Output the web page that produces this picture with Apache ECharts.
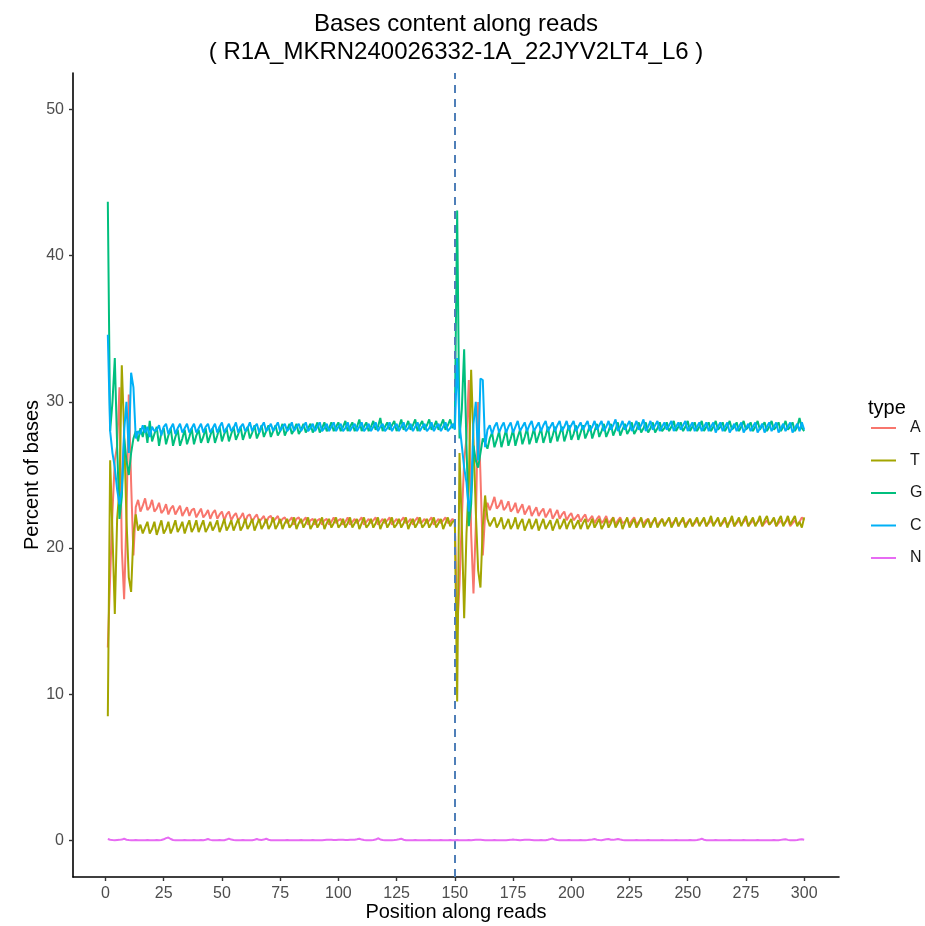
<!DOCTYPE html>
<html>
<head>
<meta charset="utf-8">
<script src="https://cdn.jsdelivr.net/npm/echarts@6/dist/echarts.min.js"></script>
<style>html,body{margin:0;padding:0;background:#fff}#c{width:925px;height:926px}</style>
</head>
<body>
<div id="c"></div>
<script>
const types = ['A', 'T', 'G', 'C', 'N'];
const xTicks = [0, 25, 50, 75, 100, 125, 150, 175, 200, 225, 250, 275, 300];
const yTicks = [0, 10, 20, 30, 40, 50];
const readSplit = 150;

const baseA = [
13.2,18.0,22.5,26.0,27.0,31.0,20.0,16.5,22.0,30.5,24.5,19.5,22.8,23.3,22.5,
22.9,23.4,22.6,22.8,23.3,22.5,22.7,23.1,22.4,22.6,23.0,22.3,22.7,22.9,22.3,
22.6,22.9,22.2,22.5,22.8,22.2,22.6,22.7,22.1,22.4,22.7,22.1,22.3,22.6,22.0,
22.4,22.6,22.0,22.3,22.5,21.9,22.3,22.5,21.9,22.2,22.4,21.9,22.1,22.4,21.8,
22.2,22.3,21.8,22.1,22.3,21.8,22.0,22.2,21.7,22.1,22.2,21.8,22.0,22.2,21.7,
22.0,22.1,21.7,21.9,22.1,21.6,22.0,22.1,21.7,21.9,22.1,21.6,21.9,22.0,21.6,
21.9,22.0,21.6,21.9,22.0,21.6,21.8,22.1,21.7,21.9,22.0,21.6,21.8,22.1,21.6,
21.8,22.0,21.7,21.9,22.1,21.6,21.8,22.0,21.7,21.9,22.1,21.6,21.8,22.0,21.7,
21.9,22.1,21.6,21.8,22.0,21.7,21.9,22.1,21.7,21.8,22.0,21.6,21.9,22.1,21.7,
21.8,22.0,21.7,21.9,22.1,21.6,21.8,22.0,21.7,21.9,22.1,21.7,21.8,22.0,21.8,
14.4,17.5,22.0,26.0,27.5,31.5,21.0,16.9,21.5,30.0,25.0,19.5,22.3,23.1,22.6,
23.0,23.5,22.7,22.9,23.3,22.6,22.8,23.2,22.5,22.7,23.1,22.4,22.7,23.0,22.3,
22.6,22.9,22.2,22.5,22.8,22.2,22.5,22.7,22.1,22.4,22.7,22.0,22.3,22.6,22.0,
22.3,22.5,21.9,22.2,22.4,21.9,22.1,22.3,21.8,22.1,22.3,21.8,22.0,22.2,21.7,
22.0,22.2,21.7,21.9,22.2,21.7,21.9,22.1,21.6,21.9,22.1,21.7,21.8,22.0,21.6,
21.9,22.1,21.6,21.8,22.0,21.6,21.9,22.0,21.6,21.8,22.0,21.5,21.8,22.0,21.6,
21.8,22.0,21.6,21.8,22.0,21.5,21.8,21.9,21.6,21.8,22.0,21.5,21.7,21.9,21.6,
21.8,22.0,21.5,21.7,21.9,21.6,21.8,22.0,21.5,21.7,21.9,21.6,21.8,22.0,21.5,
21.7,21.9,21.6,21.8,22.0,21.5,21.7,21.9,21.6,21.8,22.0,21.5,21.7,21.9,21.6,
21.8,22.0,21.5,21.7,21.9,21.6,21.8,22.0,21.5,21.7,21.9,21.6,21.8,22.1,21.9
];

const baseT = [
8.5,26.0,21.0,15.5,22.0,24.0,32.5,28.0,22.0,18.0,17.0,21.0,22.3,21.2,21.6,
21.0,21.4,21.8,21.0,21.3,21.8,20.9,21.4,21.9,21.0,21.3,21.8,21.0,21.4,21.9,
21.1,21.4,21.8,21.0,21.5,21.9,21.1,21.4,21.9,21.1,21.5,21.9,21.1,21.4,21.8,
21.2,21.5,21.9,21.1,21.5,22.0,21.2,21.5,21.9,21.2,21.6,22.0,21.2,21.5,22.0,
21.3,21.6,22.0,21.2,21.6,22.0,21.3,21.6,22.0,21.3,21.6,22.1,21.3,21.6,22.0,
21.3,21.7,22.0,21.4,21.6,22.1,21.3,21.7,22.0,21.4,21.7,22.1,21.3,21.6,22.0,
21.4,21.7,22.1,21.3,21.7,22.0,21.4,21.7,22.1,21.4,21.6,22.0,21.4,21.7,22.1,
21.4,21.7,22.0,21.3,21.7,22.1,21.4,21.6,22.0,21.4,21.7,22.1,21.3,21.7,22.0,
21.4,21.7,22.1,21.4,21.6,22.0,21.4,21.7,22.1,21.3,21.7,22.0,21.4,21.7,22.1,
21.4,21.6,22.0,21.4,21.7,22.1,21.4,21.7,22.0,21.3,21.7,22.1,21.5,21.8,21.9,
9.5,26.5,21.5,15.2,21.0,24.5,32.2,27.5,22.5,18.5,17.3,21.5,23.6,22.0,21.5,
21.8,22.1,21.4,21.7,22.1,21.3,21.6,22.0,21.3,21.6,22.1,21.3,21.7,22.0,21.2,
21.6,22.0,21.3,21.6,22.0,21.2,21.6,22.0,21.3,21.6,21.9,21.2,21.6,22.0,21.3,
21.6,22.0,21.3,21.7,22.0,21.3,21.6,21.9,21.3,21.7,22.0,21.3,21.6,22.0,21.4,
21.7,22.0,21.3,21.6,22.0,21.4,21.7,22.1,21.4,21.7,22.0,21.3,21.7,22.1,21.4,
21.7,22.0,21.4,21.7,22.1,21.4,21.7,22.0,21.4,21.8,22.1,21.4,21.7,22.0,21.5,
21.8,22.1,21.4,21.7,22.1,21.5,21.8,22.1,21.4,21.7,22.0,21.5,21.8,22.1,21.5,
21.8,22.1,21.5,21.8,22.2,21.5,21.8,22.1,21.5,21.8,22.1,21.4,21.8,22.2,21.5,
21.8,22.1,21.5,21.9,22.2,21.5,21.8,22.1,21.5,21.8,22.2,21.5,21.9,22.2,21.6,
21.8,22.1,21.5,21.9,22.2,21.5,21.8,22.2,21.6,21.9,22.2,21.5,21.8,21.4,22.1
];

const baseG = [
43.7,28.0,30.0,33.0,27.0,22.0,23.5,27.5,26.0,25.0,26.5,27.5,28.0,27.3,28.2,
27.6,28.4,27.2,28.7,27.3,27.8,28.3,27.0,27.9,28.2,27.1,27.7,28.2,27.0,27.6,
28.1,27.0,27.5,28.1,27.1,27.6,28.2,27.1,27.7,28.1,27.2,27.6,28.2,27.2,27.7,
28.2,27.2,27.7,28.3,27.3,27.8,28.2,27.3,27.8,28.3,27.4,27.8,28.3,27.4,27.9,
28.3,27.5,27.9,28.4,27.5,27.9,28.4,27.6,28.0,28.4,27.6,28.0,28.4,27.7,28.0,
28.5,27.7,28.1,28.5,27.8,28.1,28.5,27.8,28.1,28.5,27.9,28.2,28.5,27.9,28.2,
28.6,27.9,28.2,28.6,28.0,28.2,28.6,28.0,28.3,28.6,28.0,28.3,28.7,28.0,28.3,
28.6,28.0,28.3,28.8,28.0,28.3,28.6,28.0,28.3,28.7,28.1,28.3,28.9,28.0,28.3,
28.6,28.1,28.4,28.7,28.0,28.3,28.8,28.1,28.3,28.7,28.1,28.4,28.8,28.0,28.4,
28.7,28.1,28.4,28.8,28.1,28.3,28.7,28.1,28.4,28.8,28.1,28.4,28.8,28.2,28.6,
43.1,27.5,29.5,33.6,27.0,21.5,23.0,27.0,26.0,25.5,26.5,27.5,27.2,26.8,27.5,
27.9,26.9,27.4,28.0,26.9,27.5,28.1,27.0,27.5,28.1,27.0,27.6,28.1,27.1,27.6,
28.2,27.1,27.6,28.2,27.2,27.7,28.2,27.2,27.7,28.3,27.2,27.7,28.3,27.3,27.8,
28.3,27.3,27.8,28.4,27.4,27.8,28.4,27.4,27.9,28.4,27.5,27.9,28.4,27.5,28.0,
28.5,27.6,28.0,28.5,27.6,28.0,28.5,27.7,28.1,28.6,27.7,28.1,28.5,27.8,28.1,
28.6,27.8,28.1,28.6,27.9,28.2,28.6,27.9,28.2,28.6,27.9,28.2,28.6,28.0,28.2,
28.6,28.0,28.3,28.7,28.0,28.3,28.6,28.0,28.3,28.7,28.0,28.3,28.6,28.0,28.3,
28.7,28.0,28.3,28.6,28.0,28.3,28.7,28.1,28.3,28.6,28.0,28.3,28.7,28.1,28.3,
28.6,28.0,28.3,28.7,28.1,28.3,28.6,28.0,28.3,28.7,28.1,28.4,28.6,28.0,28.3,
28.7,28.1,28.3,28.6,28.0,28.3,28.7,28.1,28.3,28.6,28.0,28.3,28.9,28.2,28.0
];

const baseC = [
34.6,28.0,26.5,25.5,24.0,23.0,24.0,28.0,30.0,26.5,32.0,31.0,27.5,28.0,27.8,
28.4,27.9,28.3,27.6,28.3,28.0,28.1,28.4,27.7,28.3,28.5,27.8,28.2,28.5,27.8,
28.2,28.5,27.9,28.2,28.5,27.9,28.2,28.5,27.9,28.2,28.5,27.9,28.3,28.5,27.9,
28.2,28.5,27.9,28.3,28.6,27.9,28.2,28.5,28.0,28.2,28.6,27.9,28.3,28.5,28.0,
28.2,28.6,28.0,28.3,28.5,27.9,28.3,28.6,28.0,28.2,28.5,28.0,28.3,28.6,28.0,
28.3,28.5,28.0,28.2,28.6,28.0,28.3,28.5,28.0,28.3,28.6,28.0,28.2,28.5,28.0,
28.3,28.6,28.0,28.2,28.5,28.0,28.3,28.6,28.0,28.3,28.5,28.0,28.2,28.6,28.0,
28.3,28.5,28.0,28.3,28.6,28.0,28.2,28.5,28.0,28.3,28.6,28.0,28.3,28.5,28.0,
28.2,28.6,28.0,28.3,28.5,28.0,28.3,28.6,28.0,28.2,28.5,28.0,28.3,28.6,28.0,
28.3,28.5,28.0,28.2,28.6,28.0,28.3,28.5,28.0,28.3,28.6,28.0,28.2,28.5,28.1,
33.0,28.5,27.0,25.5,24.5,22.5,23.8,28.5,30.0,26.0,31.6,31.5,26.9,28.1,28.4,
27.8,28.3,28.6,27.9,28.3,28.6,27.9,28.3,28.6,27.9,28.3,28.7,28.0,28.3,28.6,
28.0,28.4,28.7,28.0,28.3,28.6,28.0,28.4,28.7,28.0,28.3,28.6,28.0,28.4,28.7,
28.0,28.3,28.7,28.1,28.4,28.7,28.0,28.3,28.6,28.1,28.4,28.7,28.0,28.3,28.7,
28.1,28.4,28.7,28.0,28.3,28.7,28.1,28.4,28.8,28.0,28.3,28.7,28.1,28.4,28.7,
28.0,28.3,28.7,28.1,28.4,28.8,28.0,28.3,28.7,28.1,28.4,28.7,28.0,28.3,28.6,
28.1,28.4,28.7,28.0,28.3,28.6,28.1,28.4,28.7,28.0,28.3,28.6,28.0,28.3,28.6,
28.0,28.3,28.6,28.0,28.3,28.6,27.9,28.3,28.6,28.0,28.3,28.6,27.9,28.2,28.5,
28.0,28.3,28.6,27.9,28.2,28.5,28.0,28.3,28.6,27.9,28.2,28.5,27.9,28.3,28.6,
28.0,28.3,28.6,27.9,28.2,28.5,28.0,28.3,28.6,27.9,28.2,28.5,28.0,28.6,28.1
];

const baseN = [
0.10,0.05,0.03,0.02,0.03,0.04,0.06,0.12,0.05,0.03,0.02,0.02,0.03,0.02,0.02,
0.02,0.02,0.03,0.02,0.02,0.02,0.03,0.02,0.03,0.08,0.16,0.20,0.10,0.03,0.02,
0.02,0.02,0.02,0.03,0.02,0.02,0.02,0.03,0.02,0.02,0.03,0.02,0.05,0.10,0.04,
0.02,0.02,0.02,0.03,0.02,0.02,0.06,0.13,0.06,0.03,0.02,0.02,0.02,0.03,0.02,
0.02,0.02,0.02,0.05,0.10,0.04,0.03,0.06,0.12,0.05,0.02,0.02,0.02,0.02,0.02,
0.02,0.02,0.03,0.02,0.02,0.02,0.02,0.02,0.03,0.02,0.02,0.02,0.02,0.03,0.02,
0.02,0.02,0.02,0.03,0.04,0.05,0.04,0.03,0.03,0.04,0.05,0.04,0.03,0.03,0.04,
0.04,0.05,0.08,0.12,0.06,0.03,0.02,0.02,0.02,0.03,0.06,0.15,0.07,0.03,0.02,
0.02,0.02,0.02,0.03,0.05,0.08,0.12,0.05,0.02,0.02,0.02,0.02,0.03,0.02,0.02,
0.02,0.02,0.02,0.03,0.02,0.02,0.02,0.02,0.03,0.02,0.02,0.02,0.03,0.02,0.02,
0.03,0.02,0.02,0.02,0.02,0.03,0.02,0.03,0.04,0.05,0.04,0.03,0.02,0.02,0.02,
0.02,0.03,0.02,0.02,0.02,0.02,0.02,0.03,0.04,0.06,0.04,0.03,0.02,0.03,0.04,
0.05,0.04,0.03,0.02,0.02,0.02,0.03,0.02,0.02,0.05,0.09,0.13,0.06,0.03,0.02,
0.02,0.02,0.02,0.03,0.02,0.02,0.02,0.02,0.03,0.02,0.02,0.03,0.05,0.07,0.10,
0.05,0.03,0.02,0.05,0.08,0.10,0.05,0.04,0.07,0.10,0.06,0.03,0.02,0.02,0.02,
0.02,0.02,0.03,0.02,0.02,0.02,0.02,0.03,0.02,0.02,0.02,0.02,0.02,0.03,0.02,
0.02,0.02,0.02,0.02,0.03,0.02,0.02,0.02,0.02,0.02,0.03,0.02,0.02,0.03,0.06,
0.12,0.05,0.02,0.02,0.02,0.02,0.03,0.02,0.02,0.02,0.02,0.02,0.03,0.02,0.02,
0.02,0.02,0.02,0.03,0.02,0.02,0.02,0.02,0.02,0.03,0.02,0.02,0.02,0.02,0.02,
0.02,0.03,0.02,0.02,0.04,0.06,0.08,0.04,0.02,0.02,0.02,0.03,0.06,0.08,0.05
];

const positions = baseA.map((_, i) => i + 1);
const colors = {A: '#F8766D', T: '#A3A500', G: '#00BF7D', C: '#00B0F6', N: '#E76BF3'};
const seriesValues = {A: baseA, T: baseT, G: baseG, C: baseC, N: baseN};
const FONT = '"Liberation Sans", Arial, Helvetica, sans-serif';

const chart = echarts.init(document.getElementById('c'), null, {renderer: 'canvas'});

const series = types.map((t, idx) => {
  const s = {
    name: t,
    type: 'line',
    symbol: 'none',
    showSymbol: false,
    data: positions.map((p, i) => [p, seriesValues[t][i]]),
    lineStyle: {color: colors[t], width: 2},
    itemStyle: {color: colors[t]},
    emphasis: {disabled: true},
    z: 2 + idx
  };
  if (idx === 0) {
    s.markLine = {
      silent: true,
      symbol: ['none', 'none'],
      label: {show: false},
      lineStyle: {color: '#4F7FB8', type: [8, 6], width: 2},
      data: [{xAxis: readSplit}]
    };
  }
  return s;
});

chart.setOption({
  animation: false,
  backgroundColor: '#ffffff',
  title: [{
    text: 'Bases content along reads\n( R1A_MKRN240026332-1A_22JYV2LT4_L6 )',
    left: 451,
    top: 5,
    textAlign: 'center',
    textStyle: {fontFamily: FONT, fontSize: 24, fontWeight: 'normal', color: '#000', lineHeight: 28}
  }],
  graphic: [{
    type: 'text',
    left: 868,
    top: 398,
    style: {text: 'type', font: '20px ' + FONT, fill: '#000'}
  }],
  legend: {
    data: types,
    orient: 'vertical',
    left: 866,
    top: 415,
    itemWidth: 25,
    itemHeight: 2,
    itemGap: 16.5,
    icon: 'rect',
    textStyle: {fontFamily: FONT, fontSize: 16, color: '#1a1a1a', padding: [0, 0, 0, 9]},
    selectedMode: false
  },
  grid: {left: 73, right: 86, top: 73, bottom: 49, containLabel: false, outerBoundsMode: 'none'},
  xAxis: {
    type: 'value',
    min: -13.95,
    max: 314.95,
    name: 'Position along reads',
    nameLocation: 'middle',
    nameGap: 25,
    nameMoveOverlap: false,
    nameTextStyle: {fontFamily: FONT, fontSize: 20, color: '#000'},
    axisLine: {show: true, onZero: false, lineStyle: {color: '#000', width: 1.6}},
    axisTick: {show: true, length: 4, customValues: xTicks, lineStyle: {color: '#333', width: 1.4}},
    axisLabel: {customValues: xTicks, fontFamily: FONT, fontSize: 16, color: '#4D4D4D', margin: 9},
    splitLine: {show: false}
  },
  yAxis: {
    type: 'value',
    min: -2.5,
    max: 52.5,
    name: 'Percent of bases',
    nameLocation: 'middle',
    nameGap: 31,
    nameMoveOverlap: false,
    nameRotate: 90,
    nameTextStyle: {fontFamily: FONT, fontSize: 20, color: '#000'},
    axisLine: {show: true, onZero: false, lineStyle: {color: '#000', width: 1.6}},
    axisTick: {show: true, length: 4, customValues: yTicks, lineStyle: {color: '#333', width: 1.4}},
    axisLabel: {customValues: yTicks, fontFamily: FONT, fontSize: 16, color: '#4D4D4D', margin: 9},
    splitLine: {show: false}
  },
  series: series
});
</script>
</body>
</html>
